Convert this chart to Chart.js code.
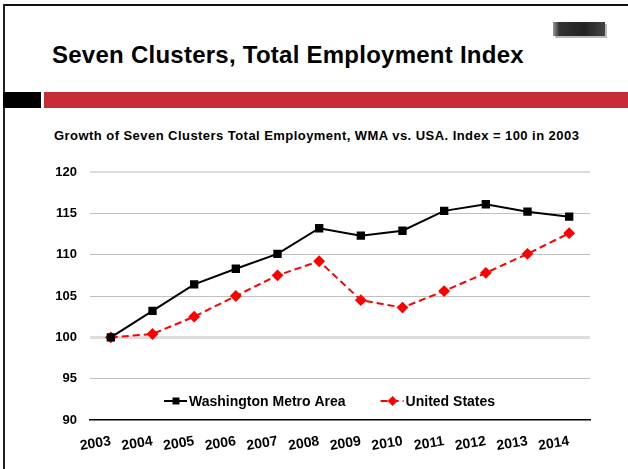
<!DOCTYPE html>
<html>
<head>
<meta charset="utf-8">
<script src="https://cdn.jsdelivr.net/npm/chart.js@4"></script>
<style>
  html, body { margin: 0; padding: 0; background: #fff; }
  body { width: 628px; height: 469px; position: relative; overflow: hidden; font-family: "Liberation Sans", Arial, sans-serif; }
  .frame-top { position: absolute; left: 3px; top: 4px; width: 625px; height: 2px; background: #111; }
  .frame-left { position: absolute; left: 3px; top: 4px; width: 2px; height: 465px; background: #222; }
  .logo { position: absolute; left: 553px; top: 22px; width: 52px; height: 14px; background: linear-gradient(90deg, #999 0, #333 12%, #222 60%, #444 100%); box-shadow: 2px 2px 0 #bbb; }
  .title { position: absolute; left: 52px; top: 41px; font-size: 24px; letter-spacing: 0.25px; font-weight: bold; color: #000; white-space: nowrap; }
  .bar-black { position: absolute; left: 3px; top: 92px; width: 38px; height: 16px; background: #000; }
  .bar-red { position: absolute; left: 44px; top: 92px; width: 584px; height: 16px; background: #c62d36; }
  .subtitle { position: absolute; left: 54px; top: 128px; font-size: 13px; letter-spacing: 0.45px; font-weight: bold; color: #000; white-space: nowrap; }
  #wrap { position: absolute; left: 0; top: 150px; width: 628px; height: 319px; }
</style>
</head>
<body>
<div class="frame-top"></div>
<div class="frame-left"></div>
<div class="logo"></div>
<div class="title">Seven Clusters, Total Employment Index</div>
<div class="bar-black"></div>
<div class="bar-red"></div>
<div class="subtitle">Growth of Seven Clusters Total Employment, WMA vs. USA. Index = 100 in 2003</div>
<div id="wrap"><canvas id="chart" width="628" height="319"></canvas></div>
<script>
const years = ["2003", "2004", "2005", "2006", "2007", "2008", "2009", "2010", "2011", "2012", "2013", "2014"];
const wma = [100, 103.2, 106.4, 108.3, 110.1, 113.2, 112.3, 112.9, 115.3, 116.1, 115.2, 114.6];
const usa = [100, 100.4, 102.5, 105.0, 107.5, 109.2, 104.5, 103.6, 105.6, 107.8, 110.1, 112.6];
const yTicks = [90, 95, 100, 105, 110, 115, 120];

const FONT = "'Liberation Sans', Arial, sans-serif";

// legend drawn inside the plot, under the lines
const innerLegend = {
  id: "innerLegend",
  afterDraw(chart) {
    const { ctx, chartArea } = chart;
    const y = chartArea.bottom - 19;
    let x = chartArea.left + 74;
    ctx.save();
    ctx.font = "bold 14px " + FONT;
    ctx.textBaseline = "middle";
    chart.data.datasets.forEach((ds) => {
      ctx.strokeStyle = ds.borderColor;
      ctx.lineWidth = 2;
      ctx.setLineDash(ds.borderDash || []);
      ctx.beginPath();
      ctx.moveTo(x, y);
      ctx.lineTo(x + 23, y);
      ctx.stroke();
      ctx.setLineDash([]);
      Chart.helpers.drawPoint(ctx, {
        pointStyle: ds.pointStyle, radius: ds.pointRadius - 1, rotation: 0, borderWidth: 1,
      }, x + 12, y);
      ctx.fillStyle = ds.pointBackgroundColor;
      ctx.fill();
      ctx.fillStyle = "#000";
      ctx.fillText(ds.label, x + 25, y + 1);
      x += 25 + ctx.measureText(ds.label).width + 35;
    });
    ctx.restore();
  },
};

new Chart(document.getElementById("chart"), {
  type: "line",
  data: {
    labels: years,
    datasets: [
      {
        label: "Washington Metro Area",
        data: wma,
        borderColor: "#000",
        backgroundColor: "#000",
        pointBackgroundColor: "#000",
        pointBorderColor: "#000",
        borderWidth: 2,
        pointStyle: "rect",
        pointRadius: 4.5,
        tension: 0,
      },
      {
        label: "United States",
        data: usa,
        borderColor: "#ff0000",
        backgroundColor: "#ff0000",
        pointBackgroundColor: "#ff0000",
        pointBorderColor: "#ff0000",
        borderWidth: 2,
        borderDash: [7, 4],
        pointStyle: "rectRot",
        pointRadius: 4.5,
        tension: 0,
      },
    ],
  },
  options: {
    responsive: false,
    animation: false,
    layout: { padding: { top: 22, right: 38, left: 0, bottom: 0 } },
    plugins: {
      legend: { display: false },
      title: { display: false },
      tooltip: { enabled: false },
    },
    scales: {
      x: {
        type: "category",
        offset: true,
        grid: { display: false },
        border: { display: true, color: "#000", width: 1.5 },
        ticks: {
          color: "#000",
          font: { family: FONT, size: 14, weight: "bold" },
          minRotation: 9,
          maxRotation: 9,
          padding: 5,
          autoSkip: false,
        },
        afterFit(scale) { scale.height = 49; },
      },
      y: {
        min: 90,
        max: 120,
        afterBuildTicks(scale) { scale.ticks = yTicks.map((v) => ({ value: v })); },
        border: { display: false },
        grid: {
          drawTicks: false,
          color: (c) => c.tick.value === 90 ? "rgba(0,0,0,0)" : (c.tick.value === 100 || c.tick.value === 120) ? "#dcdcdc" : "#c0c0c0",
          lineWidth: (c) => c.tick.value === 100 ? 3 : c.tick.value === 120 ? 2 : 1,
        },
        ticks: {
          color: "#000",
          font: { family: FONT, size: 13, weight: "bold" },
          padding: 13,
        },
        afterFit(scale) { scale.width = 90; },
      },
    },
  },
  plugins: [innerLegend],
});
</script>
</body>
</html>
